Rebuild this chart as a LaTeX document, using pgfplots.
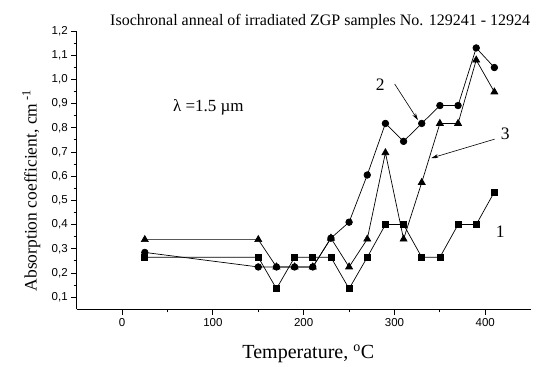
\documentclass[border=0pt]{standalone}
\usepackage{fontspec}
\setmainfont{Liberation Serif}
\setsansfont{Liberation Sans}
\usepackage{pgfplots}
\pgfplotsset{compat=1.18}
\usetikzlibrary{arrows.meta}
\begin{document}
\begin{tikzpicture}[x=1pt,y=1pt]
\clip (-76.7,-57.7) rectangle (462.3,309.3);
\begin{axis}[
 scale only axis, width=454pt, height=278.3pt,
 xmin=-50, xmax=450, ymin=0.05, ymax=1.2,
 axis x line=bottom, axis y line=left,
 axis line style={-, line width=0.9pt},
 xtick={0,100,200,300,400}, minor x tick num=1,
 ytick={0.1,0.2,0.3,0.4,0.5,0.6,0.7,0.8,0.9,1.0,1.1,1.2}, minor y tick num=1,
 tick align=outside,
 major tick length=5.5pt, minor tick length=3pt,
 tick style={line width=0.8pt, black},
 tick label style={font=\sffamily\fontsize{11.5}{13}\selectfont},
 /pgf/number format/assume math mode=true,
 yticklabel style={/pgf/number format/.cd, use comma, fixed, fixed zerofill, precision=1},
 xticklabel style={/pgf/number format/.cd, fixed, precision=0},
 clip=false,
]
\addplot[black, line width=0.7pt, mark=square*, mark size=3pt] coordinates {
(25,0.265) (150,0.265) (170,0.135) (190,0.265) (210,0.265) (230,0.265) (250,0.135) (270,0.265) (290,0.40) (310,0.40) (330,0.265) (350,0.265) (370,0.40) (390,0.40) (410,0.535)};
\addplot[black, line width=0.7pt, mark=*, mark size=3.3pt] coordinates {
(25,0.285) (150,0.225) (170,0.225) (190,0.225) (210,0.225) (230,0.344) (250,0.41) (270,0.605) (290,0.818) (310,0.744) (330,0.818) (350,0.892) (370,0.892) (390,1.13) (410,1.049)};
\addplot[black, line width=0.7pt, mark=triangle*, mark size=4pt] coordinates {
(25,0.338) (150,0.338) (170,0.225) (190,0.225) (210,0.225) (230,0.344) (250,0.225) (270,0.34) (290,0.697) (310,0.34) (330,0.574) (350,0.818) (370,0.818) (390,1.08) (410,0.948)};
\node[font=\fontsize{17.5}{20}\selectfont] at (axis cs:284.4,0.977) {2};
\draw[-{Stealth[length=7pt,width=4pt]}, line width=0.6pt] (axis cs:300.2,0.981) -- (axis cs:325.8,0.832);
\node[font=\fontsize{17.5}{20}\selectfont] at (axis cs:422,0.777) {3};
\draw[-{Stealth[length=7pt,width=4pt]}, line width=0.6pt] (axis cs:410.2,0.753) -- (axis cs:340.6,0.675);
\node[font=\fontsize{17.5}{20}\selectfont] at (axis cs:416.5,0.372) {1};
\node[anchor=base, font=\fontsize{17}{20}\selectfont, inner sep=0pt] at (axis cs:95,0.867) {λ =1.5 µm};
\end{axis}
\node[anchor=west, font=\fontsize{16}{19}\selectfont, inner sep=0pt] at (33.3,287.3) {Isochronal anneal of irradiated ZGP samples No. 129241 - 12924};
\node[rotate=90, anchor=base, font=\fontsize{17.5}{20}\selectfont, inner sep=0pt] at (-40,118.8) {Absorption coefficient, cm\textsuperscript{ -1}};
\node[anchor=base, font=\fontsize{20}{22}\selectfont, inner sep=0pt] at (231.6,-49.7) {Temperature, \textsuperscript{o}C};
\end{tikzpicture}
\end{document}
